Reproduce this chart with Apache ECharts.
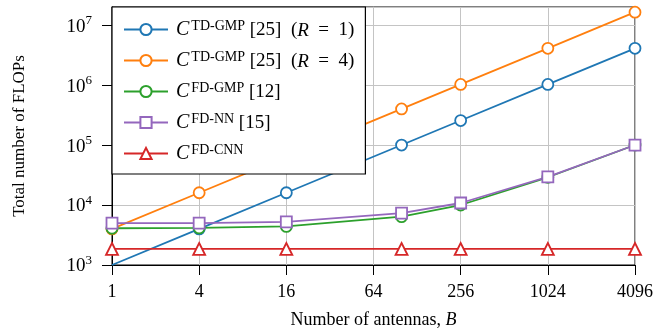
<!DOCTYPE html>
<html>
<head>
<meta charset="utf-8">
<script src="https://cdn.jsdelivr.net/npm/echarts@6/dist/echarts.min.js"></script>
<style>
  html, body { margin: 0; padding: 0; background: #fff; }
  #chart { width: 661px; height: 330px; }
</style>
</head>
<body>
<div id="chart"></div>
<script>
// antennas B
var antennas = [1, 4, 16, 100, 256, 1024, 4096];

// total FLOPs per method
var tdGmpR1 = [1000, 4000, 16000, 100000, 256000, 1024000, 4096000];
var tdGmpR4 = [4000, 16000, 64000, 400000, 1024000, 4096000, 16384000];
var fdGmp = [4100, 4150, 4400, 6400, 10000, 29000, 100000];
var fdNn = [5000, 5000, 5250, 7300, 10800, 29500, 100000];
var fdCnn = [1850, 1850, 1850, 1850, 1850, 1850, 1850];

var xTicks = [1, 4, 16, 64, 256, 1024, 4096];

var yMin = 1000, yMax = 2e7;
var serif = '"Liberation Serif", "DejaVu Serif", serif';

function pairs(ys) {
    return antennas.map(function (b, i) {
        var item = { value: [b, ys[i]] };
        // the marker on the lower frame is clipped in the original
        if (ys[i] <= yMin) item.symbol = 'none';
        return item;
    });
}

var seriesDefs = [
    { name: 'tdr1', sup: 'TD-GMP', rest: ' [25]  (', r: 'R', tail: '  =  1)', data: tdGmpR1, color: '#1f77b4', symbol: 'circle' },
    { name: 'tdr4', sup: 'TD-GMP', rest: ' [25]  (', r: 'R', tail: '  =  4)', data: tdGmpR4, color: '#ff7f0e', symbol: 'circle' },
    { name: 'fdgmp', sup: 'FD-GMP', rest: ' [12]', data: fdGmp, color: '#2ca02c', symbol: 'circle' },
    { name: 'fdnn', sup: 'FD-NN', rest: ' [15]', data: fdNn, color: '#9467bd', symbol: 'rect' },
    { name: 'fdcnn', sup: 'FD-CNN', rest: '', data: fdCnn, color: '#d62728', symbol: 'triangle' }
];

var chart = echarts.init(document.getElementById('chart'));

var option = {
    animation: false,
    textStyle: { fontFamily: serif },
    grid: {
        left: 112, right: 26, top: 7, bottom: 65,
        outerBoundsMode: 'none',
        containLabel: false,
        show: true, borderColor: '#000', borderWidth: 1
    },
    legend: {
        orient: 'vertical',
        left: 112, top: 7,
        backgroundColor: '#fff',
        borderColor: '#000', borderWidth: 1.2,
        padding: [12, 11, 10, 11],
        itemGap: 10,
        itemWidth: 44, itemHeight: 14,
        data: seriesDefs.map(function (d) { return d.name; }),
        formatter: function (name) {
            var d = seriesDefs.filter(function (s) { return s.name === name; })[0];
            var s = '{c|C}{s|' + d.sup + '}{t|' + d.rest + '}';
            if (d.r) s += '{i|' + d.r + '}{t|' + d.tail + '}';
            return s;
        },
        textStyle: {
            fontFamily: serif,
            fontSize: 19,
            color: '#000',
            padding: [0, 0, 0, 3],
            rich: {
                c: { fontFamily: serif, fontStyle: 'italic', fontSize: 20, color: '#000', lineHeight: 21, verticalAlign: 'bottom' },
                s: { fontFamily: serif, fontSize: 14, color: '#000', lineHeight: 21, verticalAlign: 'top', padding: [0, 0, 0, 2] },
                t: { fontFamily: serif, fontSize: 19, color: '#000', lineHeight: 21, verticalAlign: 'bottom' },
                i: { fontFamily: serif, fontStyle: 'italic', fontSize: 19, color: '#000', lineHeight: 21, verticalAlign: 'bottom' }
            }
        }
    },
    xAxis: {
        type: 'log',
        logBase: 4,
        min: 1, max: 4096,
        name: 'Number of antennas, {i|B}',
        nameLocation: 'middle',
        nameGap: 46,
        nameTextStyle: {
            fontFamily: serif, fontSize: 18, color: '#000',
            rich: { i: { fontFamily: serif, fontStyle: 'italic', fontSize: 18, color: '#000' } }
        },
        axisLine: { lineStyle: { color: '#000', width: 1 } },
        axisTick: { show: true, inside: false, length: 10, lineStyle: { color: '#000' } },
        axisLabel: {
            fontFamily: serif, fontSize: 18, color: '#000', margin: 18,
            formatter: function (v) {
                var r = Math.round(v);
                return xTicks.indexOf(r) >= 0 ? String(r) : '';
            }
        },
        splitLine: { show: true, lineStyle: { color: '#c4c4c4', width: 1 } }
    },
    yAxis: {
        type: 'log',
        logBase: 10,
        min: yMin, max: yMax,
        name: 'Total number of FLOPs',
        nameLocation: 'middle',
        nameGap: 84,
        nameTextStyle: { fontFamily: serif, fontSize: 17, color: '#000' },
        axisLine: { lineStyle: { color: '#000', width: 1 } },
        axisTick: { show: true, inside: false, length: 10, lineStyle: { color: '#000' } },
        axisLabel: {
            color: '#000', margin: 20,
            showMaxLabel: false,
            formatter: function (v) {
                var e = Math.round(Math.log10(v));
                if (Math.abs(Math.log10(v) - e) > 1e-6) return '';
                return '{b|10}{e|' + e + '}';
            },
            rich: {
                b: { fontFamily: serif, fontSize: 19, color: '#000', lineHeight: 22, verticalAlign: 'bottom' },
                e: { fontFamily: serif, fontSize: 13, color: '#000', lineHeight: 22, verticalAlign: 'top' }
            }
        },
        splitLine: { show: true, lineStyle: { color: '#c4c4c4', width: 1 } }
    },
    series: seriesDefs.map(function (d) {
        return {
            name: d.name,
            type: 'line',
            data: pairs(d.data),
            symbol: d.symbol,
            symbolSize: d.symbol === 'triangle' ? 12 : 11,
            showAllSymbol: true,
            clip: true,
            lineStyle: { color: d.color, width: 1.8 },
            itemStyle: { color: '#fff', borderColor: d.color, borderWidth: 1.8 }
        };
    })
};

chart.setOption(option);
</script>
</body>
</html>
